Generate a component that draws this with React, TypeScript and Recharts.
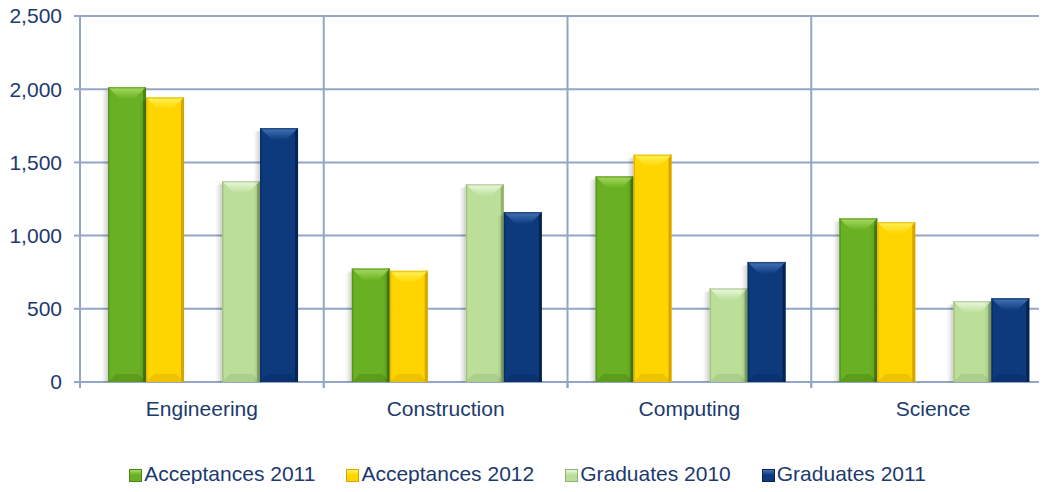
import React from "react";
import { BarChart, Bar, XAxis, YAxis, CartesianGrid, Legend } from "recharts";

const categories = ["Engineering", "Construction", "Computing", "Science"];
const acceptances2011 = [2015, 775, 1405, 1118];
const acceptances2012 = [1945, 760, 1553, 1093];
const graduates2010 = [1373, 1352, 640, 553];
const graduates2011 = [1735, 1161, 820, 572];
const yTicks = [0, 500, 1000, 1500, 2000, 2500];

const data = categories.map((name, i) => ({
  name,
  a11: acceptances2011[i],
  a12: acceptances2012[i],
  gap: null,
  g10: graduates2010[i],
  g11: graduates2011[i]
}));

const GRID = "#94a6c5";
const TEXT = "#1c3a6e";
const FONT = "'Liberation Sans', Arial, sans-serif";

type Palette = { id: string; base: string; light: string; dark: string; bottom: string };

const green: Palette = { id: "pg", base: "#69b023", light: "#a8dc62", dark: "#4a8417", bottom: "#5c9c1d" };
const yellow: Palette = { id: "py", base: "#ffd500", light: "#fff35a", dark: "#d6a500", bottom: "#efc200" };
const pale: Palette = { id: "pl", base: "#bbdf99", light: "#eef9e2", dark: "#90b26f", bottom: "#abcf8a" };
const navy: Palette = { id: "pn", base: "#0c3a7c", light: "#4775bb", dark: "#06244f", bottom: "#0a3270" };

const bevelBar = (p: Palette) => (props: any) => {
  const { x, y, width, height } = props;
  if (!height || height <= 0) return <g />;
  const b = Math.min(12, height / 2);
  const bb = Math.min(8, height / 2);
  return (
    <g>
      <defs>
        <linearGradient id={p.id + "top"} x1="0" y1="0" x2="0" y2="1">
          <stop offset="0%" stopColor={p.light} />
          <stop offset="100%" stopColor={p.base} />
        </linearGradient>
      </defs>
      <rect x={x - 6} y={y + 4} width={6} height={height - 4} fill="#000" opacity={0.04} />
      <rect x={x - 4} y={y + 3} width={4} height={height - 3} fill="#000" opacity={0.05} />
      <rect x={x - 2} y={y + 2} width={2} height={height - 2} fill="#000" opacity={0.07} />
      <rect x={x} y={y} width={width} height={height} fill={p.base} />
      <polygon
        points={`${x},${y + height} ${x + width},${y + height} ${x + width - bb},${y + height - bb} ${x + bb},${y + height - bb}`}
        fill={p.bottom}
      />
      <rect x={x + width - 3} y={y} width={3} height={height} fill={p.dark} />
      <rect x={x} y={y} width={1.5} height={height} fill={p.dark} opacity={0.6} />
      <polygon
        points={`${x},${y} ${x + width},${y} ${x + width - b},${y + b} ${x + b},${y + b}`}
        fill={`url(#${p.id}top)`}
      />
      <rect x={x} y={y} width={width} height={1.5} fill={p.dark} opacity={0.5} />
    </g>
  );
};

const CategoryTick = (props: any) => {
  const { x, y, payload, width, visibleTicksCount } = props;
  const half = width / (visibleTicksCount || categories.length) / 2;
  const base = y - 19;
  return (
    <g>
      <line x1={x - half} x2={x - half} y1={base} y2={base + 6} stroke={GRID} strokeWidth={2} />
      <line x1={x + half} x2={x + half} y1={base} y2={base + 6} stroke={GRID} strokeWidth={2} />
      <text x={x} y={y} dy="0.71em" textAnchor="middle" fill={TEXT} fontSize={21} fontFamily={FONT}>
        {payload.value}
      </text>
    </g>
  );
};

const swatch: Record<string, Palette> = { a11: green, a12: yellow, g10: pale, g11: navy };

const LegendContent = (props: any) => {
  const items = (props.payload || []).filter((e: any) => swatch[e.dataKey]);
  return (
    <div
      style={{
        display: "flex",
        justifyContent: "center",
        gap: 31,
        height: 30,
        fontFamily: FONT,
        fontSize: 21,
        color: TEXT
      }}
    >
      {items.map((e: any) => {
        const p = swatch[e.dataKey];
        return (
          <div key={e.dataKey} style={{ display: "flex", alignItems: "center" }}>
            <span
              style={{
                display: "inline-block",
                width: 13,
                height: 13,
                marginRight: 2,
                marginTop: 3,
                boxSizing: "border-box",
                border: `1px solid ${p.dark}`,
                background: `linear-gradient(180deg, ${p.light} 0%, ${p.base} 45%, ${p.base} 100%)`
              }}
            />
            <span>{e.value}</span>
          </div>
        );
      })}
    </div>
  );
};

export default function App() {
  return (
    <div style={{ margin: -8, width: 1047, height: 492, overflow: "hidden", background: "#fff" }}>
      <BarChart
        width={1060}
        height={492}
        data={data}
        margin={{ top: 16, right: 5, left: 0, bottom: 0 }}
        barCategoryGap="11.5%"
        barGap={0}
      >
        <CartesianGrid
          stroke={GRID}
          strokeWidth={2}
          verticalCoordinatesGenerator={({ offset }: any) =>
            [0, 1, 2, 3, 4].map((i) => offset.left + (i * offset.width) / 4)
          }
        />
        <XAxis
          dataKey="name"
          height={80}
          axisLine={false}
          tickLine={false}
          tickSize={6}
          tickMargin={13}
          tick={<CategoryTick />}
          interval={0}
        />
        <YAxis
          width={80}
          domain={[0, 2500]}
          ticks={yTicks}
          axisLine={{ stroke: GRID, strokeWidth: 2 }}
          tickLine={{ stroke: GRID, strokeWidth: 2 }}
          tickSize={6}
          tickMargin={12}
          tickFormatter={(v: number) => v.toLocaleString("en-US")}
          tick={{ fill: TEXT, fontSize: 21, fontFamily: FONT }}
        />
        <Legend
          verticalAlign="bottom"
          height={30}
          wrapperStyle={{ top: 459, bottom: "auto" }}
          content={<LegendContent />}
        />
        <Bar dataKey="a11" name="Acceptances 2011" fill={green.base} shape={bevelBar(green)} isAnimationActive={false} />
        <Bar dataKey="a12" name="Acceptances 2012" fill={yellow.base} shape={bevelBar(yellow)} isAnimationActive={false} />
        <Bar dataKey="gap" legendType="none" fill="none" isAnimationActive={false} />
        <Bar dataKey="g10" name="Graduates 2010" fill={pale.base} shape={bevelBar(pale)} isAnimationActive={false} />
        <Bar dataKey="g11" name="Graduates 2011" fill={navy.base} shape={bevelBar(navy)} isAnimationActive={false} />
      </BarChart>
    </div>
  );
}
